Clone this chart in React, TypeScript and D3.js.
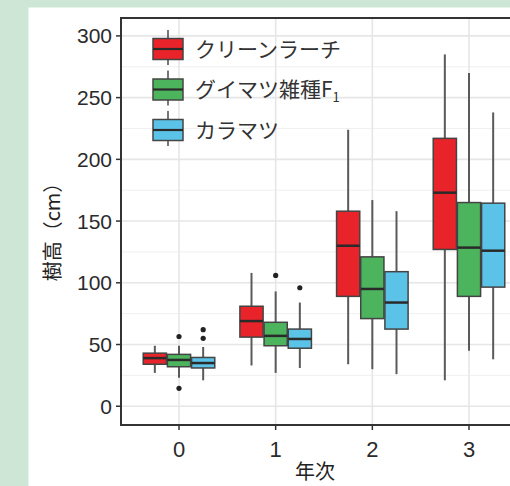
import React from "react";
import * as d3 from "d3";

// years on the x axis
const years = [0, 1, 2, 3];
const seriesNames = ["クリーンラーチ", "グイマツ雑種F", "カラマツ"];
const seriesColors = ["#e8232a", "#4db45e", "#5cc3e8"];

// box stats per series, one entry per year: [lower whisker, q1, median, q3, upper whisker]
const cleanLarch = [
  [27, 34, 39, 43, 49],
  [33, 56, 69, 81, 108],
  [34, 89, 130, 158, 224],
  [21, 127, 173, 217, 285],
];
const hybridF1 = [
  [23, 32, 37.5, 42, 49],
  [27, 49, 57, 68, 93],
  [30, 71, 95, 121, 167],
  [45, 89, 128.5, 165, 270],
];
const japaneseLarch = [
  [21, 31, 35, 39.5, 48],
  [31, 47, 54.5, 62.5, 84],
  [26, 62.5, 84, 109, 158],
  [38, 96.5, 126, 164.5, 238],
];
const seriesStats = [cleanLarch, hybridF1, japaneseLarch];

// outliers: [series index, year, value]
const outliers = [
  [1, 0, 56.5],
  [1, 0, 14.5],
  [2, 0, 55],
  [2, 0, 62],
  [1, 1, 106],
  [2, 1, 96],
];

const yTicks = [0, 50, 100, 150, 200, 250, 300];
const yMinor = [25, 75, 125, 175, 225, 275];

const W = 510;
const H = 486;

export default function App() {
  const x = d3.scaleLinear().domain([-0.6, 3.6]).range([121, 527]);
  const y = d3.scaleLinear().domain([-15.2, 314.5]).range([425, 18]);
  const unit = x(1) - x(0);
  const boxW = 0.24 * unit;
  const offset = (i: number) => (i - 1) * 0.25 * unit;

  const tickFont = "'Liberation Sans', Arial, sans-serif";
  const cjkFont = "'Noto Sans CJK JP', sans-serif";

  return (
    <svg
      width={W}
      height={H}
      style={{ position: "absolute", left: 0, top: 0 }}
    >
      <rect x={0} y={0} width={W} height={H} fill="#cde6d6" />
      <rect x={28.5} y={7.5} width={W} height={H} fill="#ffffff" />

      {/* grid */}
      {yMinor.map((v) => (
        <line key={"mn" + v} x1={121} x2={W} y1={y(v)} y2={y(v)} stroke="#f0f0f0" strokeWidth={1} />
      ))}
      {yTicks.map((v) => (
        <line key={"mj" + v} x1={121} x2={W} y1={y(v)} y2={y(v)} stroke="#e6e6e6" strokeWidth={1.6} />
      ))}
      {years.map((v) => (
        <line key={"gx" + v} x1={x(v)} x2={x(v)} y1={18} y2={425} stroke="#e6e6e6" strokeWidth={1.6} />
      ))}

      {/* boxes */}
      {seriesStats.map((stats, si) =>
        stats.map((s, yi) => {
          const cx = x(years[yi]) + offset(si);
          const [lo, q1, med, q3, hi] = s;
          return (
            <g key={"b" + si + "-" + yi}>
              <line x1={cx} x2={cx} y1={y(hi)} y2={y(q3)} stroke="#5a5a5a" strokeWidth={2} />
              <line x1={cx} x2={cx} y1={y(q1)} y2={y(lo)} stroke="#5a5a5a" strokeWidth={2} />
              <rect
                x={cx - boxW / 2}
                y={y(q3)}
                width={boxW}
                height={y(q1) - y(q3)}
                fill={seriesColors[si]}
                stroke="#444"
                strokeWidth={1.5}
              />
              <line x1={cx - boxW / 2} x2={cx + boxW / 2} y1={y(med)} y2={y(med)} stroke="#2a2a2a" strokeWidth={2.5} />
            </g>
          );
        })
      )}
      {outliers.map(([si, yr, v], i) => (
        <circle key={"o" + i} cx={x(yr) + offset(si)} cy={y(v)} r={2.6} fill="#222" />
      ))}

      {/* panel border */}
      <rect x={121} y={18} width={527 - 121} height={425 - 18} fill="none" stroke="#333" strokeWidth={2} />

      {/* y axis */}
      {yTicks.map((v) => (
        <g key={"yt" + v}>
          <line x1={116} x2={121} y1={y(v)} y2={y(v)} stroke="#333" strokeWidth={1.5} />
          <text
            x={112}
            y={y(v)}
            dy="0.36em"
            textAnchor="end"
            fontFamily={tickFont}
            fontSize={21}
            fill="#2b2b2b"
          >
            {v}
          </text>
        </g>
      ))}
      {/* x axis */}
      {years.map((v) => (
        <g key={"xt" + v}>
          <line x1={x(v)} x2={x(v)} y1={425} y2={430} stroke="#333" strokeWidth={1.5} />
          <text
            x={x(v)}
            y={457}
            textAnchor="middle"
            fontFamily={tickFont}
            fontSize={22}
            fill="#2b2b2b"
          >
            {v}
          </text>
        </g>
      ))}
      <text x={315} y={479} textAnchor="middle" fontFamily={cjkFont} fontSize={20} fill="#222">
        年次
      </text>
      <text
        transform={`translate(60,227) rotate(-90)`}
        textAnchor="middle"
        fontFamily={cjkFont}
        fontSize={20}
        fill="#222"
      >
        樹高（cm）
      </text>

      {/* legend */}
      {seriesNames.map((name, i) => {
        const cy = 49 + i * 40.5;
        return (
          <g key={"lg" + i}>
            <line x1={168} x2={168} y1={cy - 19} y2={cy + 16} stroke="#555" strokeWidth={1.6} />
            <rect x={153} y={cy - 10.5} width={30} height={21} fill={seriesColors[i]} stroke="#444" strokeWidth={1.5} />
            <line x1={153} x2={183} y1={cy} y2={cy} stroke="#2a2a2a" strokeWidth={2.2} />
            <text x={195} y={cy} dy="0.36em" fontFamily={cjkFont} fontSize={21} fill="#333">
              {name}
              {i === 1 && (
                <tspan fontSize={13} dy={5}>
                  1
                </tspan>
              )}
            </text>
          </g>
        );
      })}
    </svg>
  );
}
